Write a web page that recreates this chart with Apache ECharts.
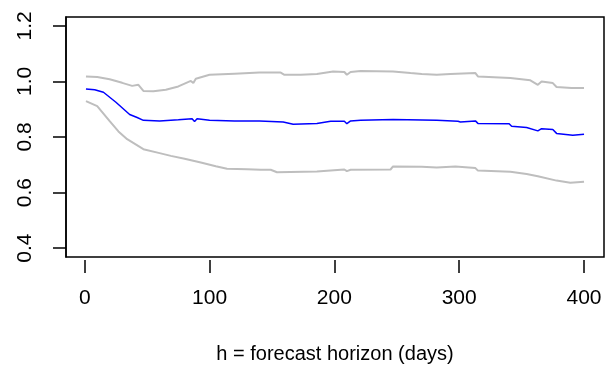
<!DOCTYPE html>
<html>
<head>
<meta charset="utf-8">
<script src="https://cdn.jsdelivr.net/npm/echarts@6/dist/echarts.min.js"></script>
<style>
  html, body { margin: 0; padding: 0; background: #fff; }
  #chart { width: 606px; height: 378px; }
</style>
</head>
<body>
<div id="chart"></div>
<script>
// upper band
var upperH = [1, 10, 20, 30, 38, 43, 47, 55, 65, 75, 85, 87, 89, 100, 120, 140, 157, 160, 173, 186,
  199, 208, 210, 213, 221, 247, 261, 270, 282, 293, 313, 315, 341, 357, 363, 366, 375, 378, 390, 400];
var upperV = [1.018, 1.016, 1.008, 0.995, 0.984, 0.988, 0.966, 0.965, 0.970, 0.982, 1.002, 0.994, 1.010, 1.024, 1.028, 1.032, 1.032, 1.024, 1.024, 1.027,
  1.036, 1.034, 1.024, 1.034, 1.038, 1.036, 1.030, 1.027, 1.024, 1.027, 1.030, 1.018, 1.012, 1.004, 0.988, 1.000, 0.994, 0.980, 0.976, 0.976];

// middle (blue) line
var meanH = [1, 8, 15, 25, 36, 42, 47, 60, 75, 86, 88, 90, 100, 120, 140, 159, 167, 186, 197, 208,
  210, 213, 221, 247, 282, 299, 301, 313, 315, 340, 342, 354, 363, 366, 375, 378, 391, 400];
var meanV = [0.973, 0.970, 0.961, 0.925, 0.881, 0.870, 0.860, 0.858, 0.862, 0.866, 0.856, 0.866, 0.860, 0.858, 0.858, 0.854, 0.846, 0.849, 0.857, 0.857,
  0.848, 0.858, 0.860, 0.863, 0.860, 0.857, 0.854, 0.858, 0.849, 0.848, 0.839, 0.834, 0.822, 0.830, 0.827, 0.813, 0.806, 0.810];

// lower band
var lowerH = [1, 10, 20, 27, 34, 47, 60, 69, 80, 93, 105, 114, 130, 141, 149, 154, 186, 208, 210, 213,
  245, 247, 270, 282, 297, 313, 315, 341, 354, 363, 378, 389, 400];
var lowerV = [0.929, 0.911, 0.857, 0.820, 0.792, 0.756, 0.742, 0.732, 0.722, 0.708, 0.695, 0.686, 0.684, 0.682, 0.682, 0.673, 0.676, 0.683, 0.677, 0.682,
  0.683, 0.694, 0.693, 0.690, 0.694, 0.688, 0.679, 0.675, 0.667, 0.659, 0.643, 0.635, 0.639];

var xTicks = [0, 100, 200, 300, 400];
var yTicks = [0.4, 0.6, 0.8, 1.0, 1.2];

function pairs(h, v) {
  return h.map(function (x, i) { return [x, v[i]]; });
}

var font = 'Liberation Sans, Arial, sans-serif';

var chart = echarts.init(document.getElementById('chart'), null, { renderer: 'canvas' });

var option = {
  animation: false,
  grid: {
    left: 66, right: 2, top: 17, bottom: 121,
    show: true, borderColor: '#000', borderWidth: 1.5, backgroundColor: 'transparent'
  },
  xAxis: {
    type: 'value',
    min: -15, max: 416,
    offset: 3,
    name: 'h = forecast horizon (days)',
    nameLocation: 'middle',
    nameGap: 84,
    nameTextStyle: { color: '#000', fontSize: 20, fontFamily: font },
    axisLine: { show: false, onZero: false },
    axisTick: { show: true, customValues: xTicks, length: 13, lineStyle: { color: '#000', width: 1.5 } },
    axisLabel: { customValues: xTicks, margin: 28, color: '#000', fontSize: 21, fontFamily: font },
    splitLine: { show: false }
  },
  yAxis: {
    type: 'value',
    min: 0.368, max: 1.232,
    axisLine: { show: true, onZero: false, lineStyle: { color: '#000', width: 1.5 } },
    axisTick: { show: true, customValues: yTicks, length: 13, lineStyle: { color: '#000', width: 1.5 } },
    axisLabel: {
      customValues: yTicks, rotate: 90, margin: 30, color: '#000', fontSize: 21, fontFamily: font,
      formatter: function (v) { return v.toFixed(1); }
    },
    splitLine: { show: false }
  },
  series: [
    { type: 'line', data: pairs(upperH, upperV), symbol: 'none', lineStyle: { color: '#bebebe', width: 2 } },
    { type: 'line', data: pairs(lowerH, lowerV), symbol: 'none', lineStyle: { color: '#bebebe', width: 2 } },
    { type: 'line', data: pairs(meanH, meanV), symbol: 'none', lineStyle: { color: '#0000ff', width: 1.5 } }
  ]
};

chart.setOption(option);
</script>
</body>
</html>
